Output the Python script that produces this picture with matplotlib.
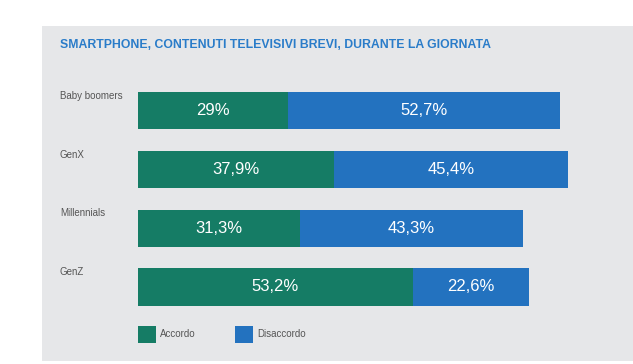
import matplotlib
matplotlib.use("Agg")
import matplotlib.pyplot as plt
from matplotlib.patches import Rectangle
from matplotlib.transforms import blended_transform_factory

FONT = ["Liberation Sans Narrow", "Liberation Sans", "DejaVu Sans"]

generations = ["Baby boomers", "GenX", "Millennials", "GenZ"]
accordo = [29.0, 37.9, 31.3, 53.2]
disaccordo = [52.7, 45.4, 43.3, 22.6]
series_names = ["Accordo", "Disaccordo"]
title = "SMARTPHONE, CONTENUTI TELEVISIVI BREVI, DURANTE LA GIORNATA"

GREEN = "#157c65"
BLUE = "#2372bf"
PANEL = "#e6e7e9"

W, H = 633, 364


def fmt(v):
    s = f"{v:.1f}".rstrip("0").rstrip(".")
    return s.replace(".", ",") + "%"


def main():
    fig = plt.figure(figsize=(W / 100, H / 100), dpi=100)
    fig.patch.set_facecolor("white")

    # grey panel behind everything
    fig.patches.append(Rectangle((42 / W, 3 / H), 1 - 42 / W, (H - 29) / H,
                                 transform=fig.transFigure, facecolor=PANEL,
                                 edgecolor="none", zorder=-5))
    fig.text(60 / W, 1 - 45 / H, title, color="#2a7cc9", fontsize=8.8,
             fontweight="bold", family=FONT, va="center", ha="left")

    # axes: 5.16 px per percent, rows 58.8 px apart
    px_per = 5.16
    xmax = 90
    left = 138
    top = 81.1
    bottom = 316.4
    ax = fig.add_axes([left / W, 1 - bottom / H, xmax * px_per / W, (bottom - top) / H])
    ax.set_facecolor("none")
    ax.set_zorder(2)

    y = list(range(len(generations)))
    b1 = ax.barh(y, accordo, height=0.63, color=GREEN, label=series_names[0])
    b2 = ax.barh(y, disaccordo, left=accordo, height=0.63, color=BLUE, label=series_names[1])

    for i in y:
        ax.text(accordo[i] / 2, i, fmt(accordo[i]), color="white", fontsize=12,
                family=FONT, ha="center", va="center")
        ax.text(accordo[i] + disaccordo[i] / 2, i, fmt(disaccordo[i]), color="white",
                fontsize=12, family=FONT, ha="center", va="center")

    trans = blended_transform_factory(fig.transFigure, ax.transData)
    for i, name in enumerate(generations):
        ax.text(60 / W, i - 0.25, name, transform=trans, color="#555555",
                fontsize=7, family=FONT, ha="left", va="center")

    ax.set_xlim(0, xmax)
    ax.set_ylim(len(generations) - 0.5, -0.5)
    ax.axis("off")

    ax.legend(handles=[b1, b2], loc="upper left",
              bbox_to_anchor=(138 / W, 1 - 326 / H), bbox_transform=fig.transFigure,
              ncol=2, frameon=False, prop={"family": FONT, "size": 7},
              borderpad=0, borderaxespad=0,
              handlelength=1.85, handleheight=2.3, handletextpad=0.4,
              columnspacing=4.1, labelcolor="#555555")

    fig.savefig("out.png", dpi=100)


if __name__ == "__main__":
    main()
